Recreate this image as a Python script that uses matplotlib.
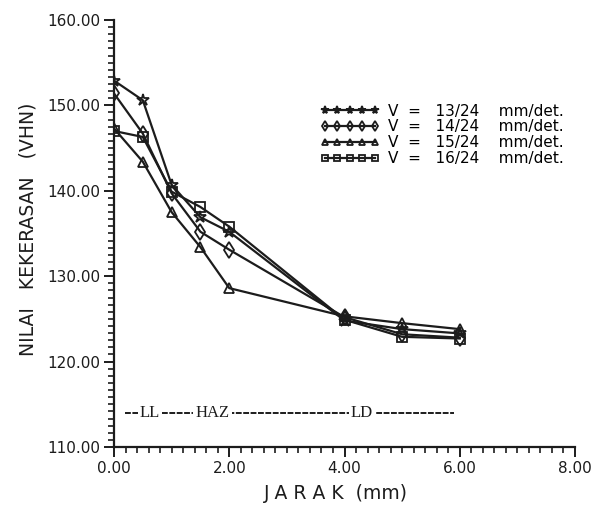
import matplotlib.pyplot as plt
from matplotlib.ticker import MultipleLocator, FormatStrFormatter

plt.close("all")

# jarak (mm)
jarak = [0.0, 0.5, 1.0, 1.5, 2.0, 4.0, 5.0, 6.0]

# nilai kekerasan (VHN) per kecepatan
v13 = [152.9, 150.6, 140.7, 136.9, 135.2, 124.8, 123.8, 123.3]
v14 = [151.4, 146.7, 139.7, 135.2, 133.1, 125.2, 123.2, 122.8]
v15 = [147.3, 143.4, 137.5, 133.4, 128.6, 125.3, 124.5, 123.8]
v16 = [147.0, 146.3, 139.9, 138.1, 135.8, 124.9, 122.9, 122.7]

labels = ["V  =   13/24    mm/det.", "V  =   14/24    mm/det.",
          "V  =   15/24    mm/det.", "V  =   16/24    mm/det."]

# daerah: LL, HAZ, LD
zona = ["LL", "HAZ", "LD"]
zona_x = [0.62, 1.71, 4.30]
zona_y = 114.0
zona_awal, zona_akhir = 0.19, 5.9

ink = "#1c1c1c"

fig = plt.figure(figsize=(5.95, 5.08), dpi=100)
ax = fig.add_axes([0.1916, 0.1201, 0.7748, 0.8406])

series = [(v13, "*", 9), (v14, "d", 8), (v15, "^", 7), (v16, "s", 7)]
for (vals, mk, ms), lab in zip(series, labels):
    ax.plot(jarak, vals, color=ink, lw=1.6, marker=mk, markersize=ms,
            mfc="none", mec=ink, mew=1.3, label=lab)

# garis zona
ax.hlines(zona_y, zona_awal, zona_akhir, color=ink, lw=1.4,
          linestyles=(0, (3, 0.8)))
for z, zx in zip(zona, zona_x):
    ax.text(zx, zona_y, z, ha="center", va="center", fontsize=12,
            family="Liberation Serif", color=ink,
            bbox=dict(facecolor="white", edgecolor="none", pad=1.5))

ax.set_xlim(0, 8)
ax.set_ylim(110, 160)
ax.xaxis.set_major_locator(MultipleLocator(2))
ax.xaxis.set_minor_locator(MultipleLocator(0.2))
ax.yaxis.set_major_locator(MultipleLocator(10))
ax.yaxis.set_minor_locator(MultipleLocator(10 / 12))
ax.xaxis.set_major_formatter(FormatStrFormatter("%.2f"))
ax.yaxis.set_major_formatter(FormatStrFormatter("%.2f"))

ax.spines["top"].set_visible(False)
ax.spines["right"].set_visible(False)
for s in ("left", "bottom"):
    ax.spines[s].set_linewidth(1.6)
    ax.spines[s].set_color(ink)
ax.tick_params(which="major", direction="out", length=7, width=1.4,
               labelsize=11, colors=ink, pad=3)
ax.tick_params(which="minor", direction="out", length=4, width=1.2,
               colors=ink)

ax.set_xlabel("J A R A K  (mm)", fontsize=13.5, color=ink)
ax.xaxis.set_label_coords(0.482, -0.087)
ax.set_ylabel("NILAI   KEKERASAN   (VHN)", fontsize=13.5, color=ink)
ax.yaxis.set_label_coords(-0.165, 0.51)

ax.legend(loc="upper left", bbox_to_anchor=(0.447, 0.804), frameon=False,
          numpoints=5, handlelength=3.9, handletextpad=0.55,
          labelspacing=0.05, borderpad=0, borderaxespad=0,
          prop={"size": 11}, markerscale=0.65)

plt.savefig("out.png", dpi=100)
